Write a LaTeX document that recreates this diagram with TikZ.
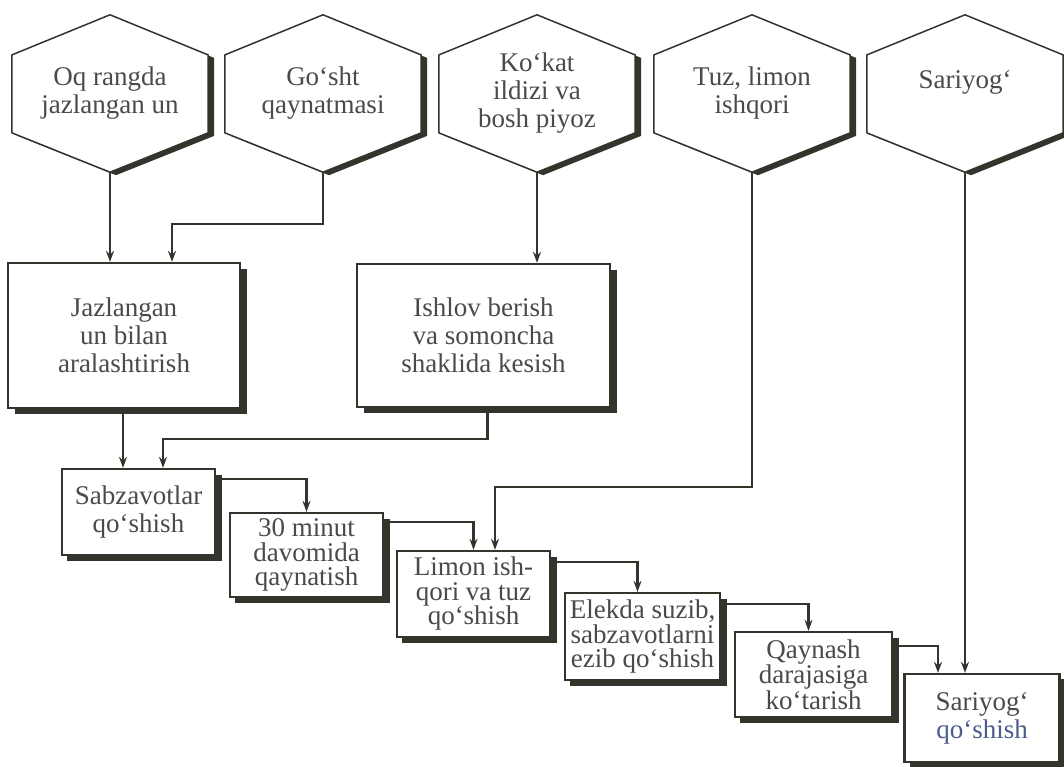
\documentclass[tikz,border=0pt]{standalone}
\usepackage{fontspec}
\setmainfont{Liberation Serif}
\usetikzlibrary{calc,arrows.meta,shadows,backgrounds}
\definecolor{linecol}{HTML}{34342C}
\definecolor{txtcol}{HTML}{4A4A48}
\definecolor{bluetxt}{HTML}{4A5C8E}
\newcommand{\hexshape}[1]{%
  \fill[linecol,transform canvas={shift={(6pt,-3pt)}}] (#1.north) -- ($(#1.north east)!0.255!(#1.south east)$) -- ($(#1.north east)!0.75!(#1.south east)$) -- (#1.south) -- ($(#1.north west)!0.75!(#1.south west)$) -- ($(#1.north west)!0.255!(#1.south west)$) -- cycle;
  \filldraw[fill=white,draw=linecol,line width=1.5pt,line join=round] (#1.north) -- ($(#1.north east)!0.255!(#1.south east)$) -- ($(#1.north east)!0.75!(#1.south east)$) -- (#1.south) -- ($(#1.north west)!0.75!(#1.south west)$) -- ($(#1.north west)!0.255!(#1.south west)$) -- cycle;}
\begin{document}
\begin{tikzpicture}[x=1pt,y=-1pt,
  hexnode/.style={minimum width=196pt, minimum height=157pt, inner sep=0pt, align=center, text=txtcol, font=\fontsize{27}{28}\selectfont},
  boxnode/.style={draw=linecol, line width=2.3pt, fill=white, align=center, text=txtcol, inner sep=0pt,
     general shadow={fill=linecol, shadow xshift=7pt, shadow yshift=-6pt}},
  smallshadow/.style={general shadow={fill=linecol, shadow xshift=5pt, shadow yshift=-6pt}},
  bigtext/.style={font=\fontsize{27}{28}\selectfont},
  smalltext/.style={font=\fontsize{27}{24.5}\selectfont},
  ln/.style={draw=linecol, line width=2.2pt},
  arr/.style={ln, -{Stealth[length=11pt,width=8pt]}}]
\useasboundingbox (0,0) rectangle (1064,767);

% hexagons (ingredients)
\node[hexnode] (h1) at (110,93.5) {Oq rangda\\jazlangan un};
\node[hexnode] (h2) at (323,93.5) {Go‘sht\\qaynatmasi};
\node[hexnode] (h3) at (537,93.5) {Ko‘kat\\ildizi va\\bosh piyoz};
\node[hexnode] (h4) at (752,93.5) {Tuz, limon\\ishqori};
\node[hexnode] (h5) at (965,93.5) {Sariyog‘\\\mbox{}};
\begin{pgfonlayer}{background}
\hexshape{h1}\hexshape{h2}\hexshape{h3}\hexshape{h4}\hexshape{h5}
\end{pgfonlayer}

% process boxes
\node[boxnode,bigtext,minimum width=232pt,minimum height=145pt] (A) at (124,335.5) {Jazlangan\\un bilan\\aralashtirish};
\node[boxnode,bigtext,minimum width=253pt,minimum height=143pt] (B) at (483.5,335.5) {Ishlov berish\\va somoncha\\shaklida kesish};
\node[boxnode,bigtext,smallshadow,minimum width=153pt,minimum height=86pt] (C) at (138.5,512) {Sabzavotlar\\qo‘shish};
\node[boxnode,smalltext,smallshadow,minimum width=153pt,minimum height=84pt] (D) at (306.5,555) {30 minut\\davomida\\qaynatish};
\node[boxnode,smalltext,smallshadow,minimum width=153pt,minimum height=86pt] (E) at (473.5,594) {Limon ish-\\qori va tuz\\qo‘shish};
\node[boxnode,smalltext,smallshadow,minimum width=155pt,minimum height=87pt] (F) at (642.5,636.5) {Elekda suzib,\\sabzavotlarni\\ezib qo‘shish};
\node[boxnode,smalltext,smallshadow,minimum width=157pt,minimum height=85pt] (G) at (813.5,674.5) {Qaynash\\darajasiga\\ko‘tarish};
\node[boxnode,bigtext,minimum width=155pt,minimum height=88pt,general shadow={fill=linecol, shadow xshift=5pt, shadow yshift=-5pt}] (H) at (982,718) {Sariyog‘\\\textcolor{bluetxt}{qo‘shish}};

% bend points
\coordinate (c2) at (172,224);
\coordinate (c4) at (495,487);
\coordinate (c7) at (163,439);

% connectors
\draw[arr] (h1.south) -- (h1.south |- A.north);
\draw[arr] (h2.south) |- (c2) -- (c2 |- A.north);
\draw[arr] (h3.south) -- (h3.south |- B.north);
\draw[arr] (h4.south) |- (c4) -- (c4 |- E.north);
\draw[arr] (h5.south) -- (h5.south |- H.north);
\draw[arr] ([xshift=-1pt]A.south) -- ([xshift=-1pt]A.south |- C.north);
\draw[arr] ([xshift=4pt]B.south) |- (c7) -- (c7 |- C.north);
\draw[arr] ([yshift=-11pt]C.north east) -| (D.north);
\draw[arr] ([yshift=-10pt]D.north east) -| (E.north);
\draw[arr] ([yshift=-12pt]E.north east) -| ([xshift=-5pt]F.north);
\draw[arr] ([yshift=-12pt]F.north east) -| ([xshift=-5pt]G.north);
\draw[arr] ([yshift=-15pt]G.north east) -| ([xshift=-44pt]H.north);
\end{tikzpicture}
\end{document}
